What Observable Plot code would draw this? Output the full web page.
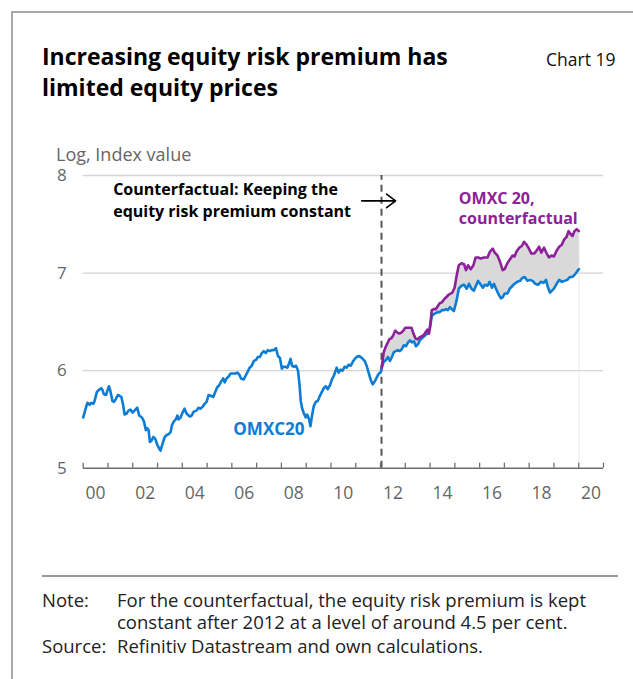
<!DOCTYPE html>
<html><head><meta charset="utf-8">
<script src="https://cdn.jsdelivr.net/npm/d3@7"></script>
<script src="https://cdn.jsdelivr.net/npm/@observablehq/plot@0.6"></script>
<style>
body{margin:0;background:#fff;font-family:"Open Sans",sans-serif;}
#page{position:relative;width:633px;height:679px;overflow:hidden;background:#fff;}
.abs{position:absolute;white-space:nowrap;}
#chart{position:absolute;left:0;top:140px;}
.note{font-size:18.5px;line-height:20px;color:#222;}
</style></head><body><div id="page">
<div class="abs" style="left:11px;top:11px;width:640px;height:700px;border-left:2px solid #a8a8a8;border-top:2px solid #a8a8a8;"></div>
<div class="abs" style="left:42px;top:41px;font-size:23px;font-weight:700;line-height:31px;color:#000;">Increasing equity risk premium has<br>limited equity prices</div>
<div class="abs" style="left:546px;top:48px;font-size:17.5px;line-height:22px;color:#111;">Chart 19</div>
<div class="abs" style="left:56px;top:146px;font-size:18px;line-height:16px;color:#666;">Log, Index value</div>
<div id="chart"></div>
<div class="abs" style="left:42px;top:575px;width:576px;height:2px;background:#9a9a9a;"></div>
<div class="abs note" style="left:42px;top:590px;">Note:</div>
<div class="abs note" style="left:117px;top:590px;">For the counterfactual, the equity risk premium is kept</div>
<div class="abs note" style="left:117px;top:612px;">constant after 2012 at a level of around 4.5 per cent.</div>
<div class="abs note" style="left:42px;top:636px;">Source:</div>
<div class="abs note" style="left:117px;top:636px;">Refinitiv Datastream and own calculations.</div>
</div>
<script>
// OMXC20 (log index value)
const omxcYears = [
2000.00,2000.11,2000.17,2000.26,2000.32,2000.41,2000.46,2000.55,2000.62,2000.73,2000.78,2000.83,2000.92,2000.97,
2001.04,2001.09,2001.18,2001.24,2001.32,2001.40,2001.48,2001.54,2001.61,2001.67,2001.75,2001.83,2001.91,2001.99,
2002.07,2002.18,2002.26,2002.37,2002.45,2002.53,2002.58,2002.64,2002.69,2002.75,2002.83,2002.91,2002.99,
2003.07,2003.12,2003.20,2003.29,2003.37,2003.45,2003.53,2003.58,2003.66,2003.74,2003.80,2003.85,2003.93,
2004.01,2004.09,2004.17,2004.30,2004.38,2004.46,2004.57,2004.65,2004.74,2004.82,2004.90,2004.98,
2005.06,2005.17,2005.25,2005.33,2005.41,2005.49,2005.57,2005.65,2005.71,2005.79,2005.87,2005.95,
2006.03,2006.14,2006.22,2006.30,2006.37,2006.48,2006.56,2006.64,2006.72,2006.80,2006.89,2006.97,
2007.05,2007.13,2007.21,2007.29,2007.37,2007.45,2007.53,2007.61,2007.70,2007.78,2007.86,2007.94,
2008.02,2008.08,2008.16,2008.24,2008.32,2008.37,2008.43,2008.51,2008.59,2008.67,2008.73,2008.78,2008.83,2008.91,2008.98,
2009.04,2009.12,2009.17,2009.25,2009.31,2009.39,2009.47,2009.55,2009.63,2009.71,2009.79,2009.87,2009.96,
2010.04,2010.12,2010.23,2010.31,2010.39,2010.47,2010.55,2010.63,2010.71,2010.80,2010.88,2010.96,
2011.04,2011.12,2011.20,2011.28,2011.36,2011.44,2011.52,2011.61,2011.69,2011.77,2011.85,2011.93,
2012.00,2012.05,2012.13,2012.22,2012.30,2012.38,2012.46,2012.54,2012.62,2012.70,2012.78,2012.86,2012.94,
2013.03,2013.11,2013.19,2013.27,2013.35,2013.43,2013.51,2013.59,2013.67,2013.75,2013.83,2013.92,2013.99,
2014.07,2014.15,2014.23,2014.31,2014.39,2014.48,2014.56,2014.64,2014.72,2014.80,2014.96,
2015.07,2015.16,2015.27,2015.37,2015.48,2015.57,2015.67,2015.77,2015.85,2015.94,
2016.02,2016.13,2016.21,2016.32,2016.40,2016.50,2016.58,2016.66,2016.75,2016.86,2016.93,
2017.01,2017.12,2017.22,2017.33,2017.41,2017.52,2017.63,2017.72,2017.82,2017.93,
2018.03,2018.14,2018.25,2018.36,2018.47,2018.58,2018.68,2018.76,2018.84,2018.92,
2019.00,2019.11,2019.21,2019.32,2019.43,2019.54,2019.64,2019.75,2019.86,2019.97,2020.01];
const omxcValues = [
5.52,5.62,5.67,5.65,5.67,5.66,5.69,5.78,5.80,5.82,5.80,5.76,5.75,5.79,
5.84,5.80,5.69,5.68,5.71,5.75,5.74,5.73,5.65,5.55,5.56,5.59,5.60,5.57,
5.59,5.62,5.54,5.52,5.48,5.39,5.41,5.39,5.27,5.28,5.32,5.30,5.24,
5.20,5.18,5.25,5.32,5.34,5.35,5.37,5.44,5.48,5.50,5.54,5.50,5.52,
5.57,5.61,5.56,5.53,5.54,5.58,5.59,5.62,5.61,5.63,5.66,5.68,
5.75,5.74,5.73,5.78,5.83,5.85,5.89,5.92,5.88,5.92,5.94,5.97,
5.97,5.97,5.98,5.96,5.92,5.91,5.95,5.99,6.03,6.05,6.10,6.11,
6.14,6.14,6.18,6.20,6.18,6.21,6.20,6.21,6.21,6.23,6.15,6.13,
6.02,6.04,6.04,6.03,6.08,6.12,6.05,6.04,6.05,6.00,5.86,5.69,5.62,5.56,5.52,
5.55,5.50,5.43,5.56,5.64,5.68,5.69,5.74,5.78,5.82,5.84,5.81,5.85,
5.91,5.95,6.03,5.98,6.01,6.00,6.04,6.03,6.06,6.05,6.09,6.12,
6.14,6.15,6.14,6.12,6.10,6.05,5.98,5.90,5.86,5.89,5.93,5.97,
5.98,6.03,6.09,6.11,6.14,6.10,6.14,6.19,6.20,6.21,6.20,6.22,6.26,
6.25,6.29,6.31,6.29,6.30,6.25,6.27,6.31,6.33,6.35,6.37,6.38,6.43,
6.56,6.58,6.59,6.60,6.60,6.62,6.62,6.63,6.62,6.65,6.61,
6.72,6.84,6.87,6.88,6.84,6.89,6.84,6.82,6.87,6.92,
6.89,6.85,6.88,6.87,6.91,6.85,6.89,6.84,6.79,6.74,6.75,
6.79,6.79,6.84,6.87,6.89,6.91,6.92,6.95,6.96,6.92,
6.93,6.92,6.89,6.88,6.91,6.90,6.93,6.85,6.80,6.82,
6.84,6.89,6.93,6.91,6.92,6.93,6.96,6.96,6.99,7.03,7.04];

// OMXC 20, counterfactual (constant equity risk premium after 2012)
const cfYears = [
2012.05,2012.13,2012.22,2012.28,2012.35,2012.43,2012.51,2012.59,2012.68,2012.76,2012.84,2012.92,
2013.00,2013.08,2013.16,2013.25,2013.33,2013.41,2013.49,2013.57,2013.65,2013.73,2013.81,2013.89,2013.96,
2014.02,2014.07,2014.15,2014.23,2014.31,2014.39,2014.48,2014.56,2014.64,2014.76,2014.90,2014.99,
2015.07,2015.16,2015.27,2015.37,2015.45,2015.53,2015.64,2015.75,2015.84,2015.94,
2016.04,2016.18,2016.32,2016.42,2016.53,2016.61,2016.72,2016.83,2016.93,
2017.01,2017.12,2017.22,2017.33,2017.41,2017.49,2017.60,2017.71,2017.79,2017.90,2017.99,
2018.09,2018.20,2018.30,2018.40,2018.49,2018.60,2018.71,2018.80,2018.90,
2019.00,2019.11,2019.21,2019.32,2019.40,2019.51,2019.59,2019.67,2019.75,2019.83,2019.92,2020.00];
const cfValues = [
6.03,6.19,6.25,6.28,6.32,6.33,6.36,6.41,6.39,6.38,6.39,6.41,
6.44,6.44,6.44,6.44,6.38,6.33,6.32,6.34,6.35,6.36,6.39,6.42,6.38,
6.50,6.62,6.63,6.63,6.66,6.69,6.70,6.73,6.75,6.78,6.80,6.85,
6.97,7.08,7.10,7.09,7.03,7.08,7.04,7.08,7.16,7.16,
7.15,7.16,7.16,7.22,7.25,7.21,7.18,7.11,7.03,
7.04,7.10,7.14,7.18,7.17,7.22,7.26,7.28,7.32,7.29,7.25,
7.20,7.20,7.23,7.27,7.21,7.26,7.20,7.16,7.18,
7.17,7.23,7.27,7.29,7.34,7.37,7.43,7.40,7.38,7.43,7.45,7.43];

const counterfactualStart = 2012.04;
const gridValues = [6, 7, 8];
const yTickValues = [5, 6, 7, 8];
const yearTicks = [2000,2001,2002,2003,2004,2005,2006,2007,2008,2009,2010,2011,2012,2013,2014,2015,2016,2017,2018,2019,2020,2021];
const labelYears = [2000,2002,2004,2006,2008,2010,2012,2014,2016,2018,2020];
const labelTexts = ["00","02","04","06","08","10","12","14","16","18","20"];

const omxc = omxcYears.map((x, i) => ({x, y: omxcValues[i]}));
const cf = cfYears.map((x, i) => ({x, y: cfValues[i]}));
const band = cf.concat(omxc.filter(d => d.x >= cfYears[0]).reverse());

const BLUE = "#0b7dd4", PURPLE = "#8c2199";

const chart = Plot.plot({
  width: 633, height: 370,
  marginTop: 35, marginBottom: 42.3, marginLeft: 82.7, marginRight: 30,
  style: {fontFamily: "Open Sans", fontSize: "16px", color: "#666", background: "transparent", overflow: "visible"},
  x: {domain: [2000, 2021], axis: null},
  y: {domain: [5, 8], axis: null},
  marks: [
    Plot.ruleY(gridValues, {stroke: "#d4d4d4", strokeWidth: 1.3}),
    Plot.ruleX([omxcYears[omxcYears.length - 1]], {y1: 5, y2: cfValues[cfValues.length - 1], stroke: "#e8e8e8", strokeWidth: 1}),
    Plot.line(band, {x: "x", y: "y", fill: "#d9d9d9", stroke: "none"}),
    Plot.ruleX([counterfactualStart], {y1: 5, y2: 8, stroke: "#555", strokeWidth: 2, strokeDasharray: "7,5"}),
    Plot.line(omxc, {x: "x", y: "y", stroke: BLUE, strokeWidth: 2.6, strokeLinejoin: "round"}),
    Plot.line(cf, {x: "x", y: "y", stroke: PURPLE, strokeWidth: 2.6, strokeLinejoin: "round"}),
    Plot.ruleY([5], {stroke: "#6e6e6e", strokeWidth: 1.5}),
    Plot.ruleX(yearTicks, {x: d => d, stroke: "#6e6e6e", strokeWidth: 1.3, insetTop: 287.7}),
    Plot.text(yTickValues, {x: 2000, y: d => d, text: d => String(d), textAnchor: "end", dx: -16.5, fill: "#666", fontSize: 17}),
    Plot.text(labelYears, {x: d => d + 0.5, y: 5, text: (d, i) => labelTexts[i], dy: 25, fill: "#666", fontSize: 17.5}),
    Plot.text(["Counterfactual: Keeping the\nequity risk premium constant"], {x: 2001.21, y: 7.764, text: d => d, textAnchor: "start", lineHeight: 1.38, fontSize: 16, fontWeight: "bold", fill: "#000"}),
    Plot.arrow([0], {x1: 2011.24, y1: 7.74, x2: 2012.61, y2: 7.74, stroke: "#000", strokeWidth: 1.6, headLength: 15, headAngle: 74}),
    Plot.text(["OMXC 20,\ncounterfactual"], {x: 2015.16, y: 7.669, text: d => d, textAnchor: "start", lineHeight: 1.25, fontSize: 16, fontWeight: "bold", fill: PURPLE}),
    Plot.text(["OMXC20"], {x: 2006.06, y: 5.394, text: d => d, textAnchor: "start", fontSize: 17, fontWeight: "bold", fill: BLUE})
  ]
});
document.getElementById("chart").appendChild(chart);
</script>
</body></html>
